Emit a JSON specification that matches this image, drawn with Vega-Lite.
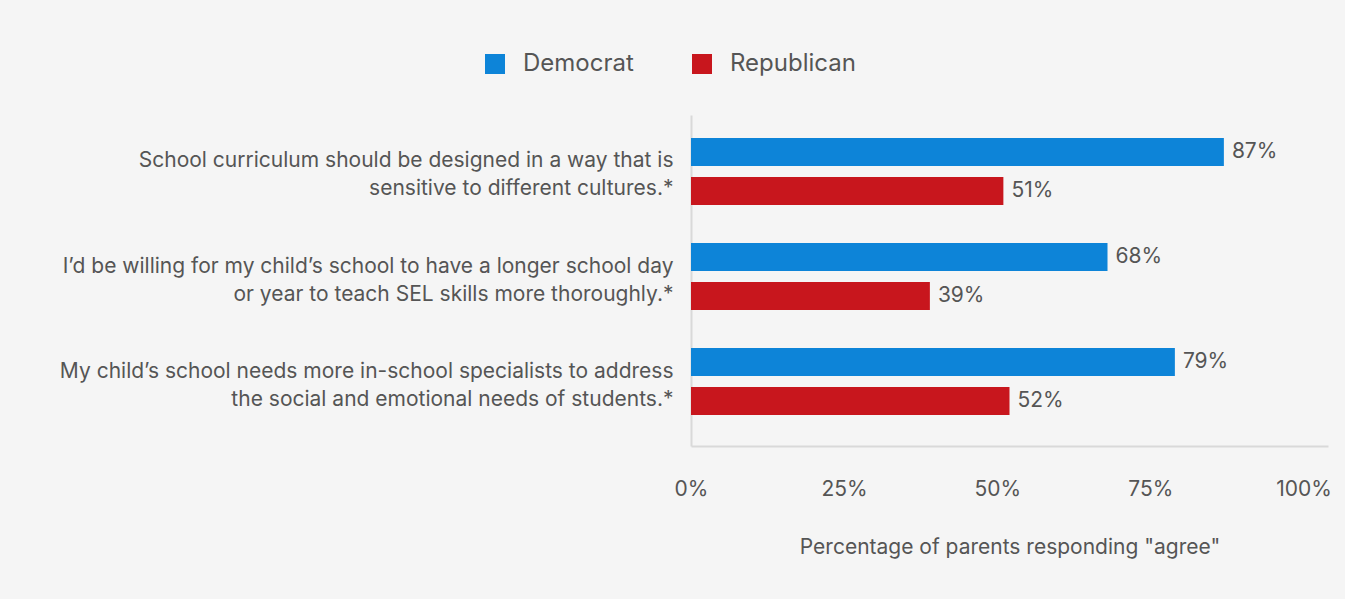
{
  "$schema": "https://vega.github.io/schema/vega-lite/v6.json",
  "width": 637,
  "height": 331,
  "autosize": {"type": "none"},
  "padding": {"left": 691, "top": 115, "right": 17, "bottom": 153},
  "background": "#f5f5f5",
  "config": {"view": {"stroke": null}, "font": "Inter"},
  "data": {
    "values": [
      {"question": "School curriculum should be designed in a way that is|sensitive to different cultures.*", "party": "Democrat", "value": 0.87},
      {"question": "School curriculum should be designed in a way that is|sensitive to different cultures.*", "party": "Republican", "value": 0.51},
      {"question": "I’d be willing for my child’s school to have a longer school day|or year to teach SEL skills more thoroughly.*", "party": "Democrat", "value": 0.68},
      {"question": "I’d be willing for my child’s school to have a longer school day|or year to teach SEL skills more thoroughly.*", "party": "Republican", "value": 0.39},
      {"question": "My child’s school needs more in-school specialists to address|the social and emotional needs of students.*", "party": "Democrat", "value": 0.79},
      {"question": "My child’s school needs more in-school specialists to address|the social and emotional needs of students.*", "party": "Republican", "value": 0.52}
    ]
  },
  "encoding": {
    "y": {
      "field": "question",
      "type": "nominal",
      "sort": null,
      "scale": {"paddingInner": 0, "paddingOuter": 0.076, "align": 0.25},
      "axis": {
        "title": null,
        "labelExpr": "split(datum.value, '|')",
        "labelFontSize": 21,
        "labelColor": "#555555",
        "labelLineHeight": 28,
        "labelPadding": 18,
        "labelOffset": -10,
        "labelLimit": 700,
        "ticks": false,
        "domainColor": "#d9d9d9",
        "domainWidth": 2
      }
    },
    "yOffset": {
      "field": "party",
      "type": "nominal",
      "sort": ["Democrat", "Republican"],
      "scale": {"paddingInner": 0.28, "paddingOuter": 0.49}
    },
    "x": {
      "field": "value",
      "type": "quantitative",
      "scale": {"domain": [0, 1.04], "nice": false},
      "axis": {
        "values": [0, 0.25, 0.5, 0.75, 1],
        "format": ".0%",
        "grid": false,
        "ticks": false,
        "labelFontSize": 21,
        "labelColor": "#555555",
        "labelPadding": 32,
        "labelFlush": false,
        "domainColor": "#d9d9d9",
        "domainWidth": 2,
        "title": "Percentage of parents responding \"agree\"",
        "titleFontSize": 21,
        "titleFontWeight": "normal",
        "titleColor": "#555555",
        "titlePadding": 37
      }
    }
  },
  "layer": [
    {
      "mark": {"type": "bar"},
      "encoding": {
        "color": {
          "field": "party",
          "type": "nominal",
          "scale": {"domain": ["Democrat", "Republican"], "range": ["#0d84d8", "#c8161d"]},
          "legend": {
            "orient": "none",
            "legendX": -208,
            "legendY": -63,
            "direction": "horizontal",
            "title": null,
            "symbolType": "square",
            "symbolSize": 400,
            "symbolStrokeWidth": 0,
            "labelFontSize": 24,
            "labelColor": "#555555",
            "labelOffset": 16,
            "columnPadding": 56
          }
        }
      }
    },
    {
      "mark": {"type": "text", "align": "left", "baseline": "middle", "dx": 8, "fontSize": 21, "color": "#555555"},
      "encoding": {
        "text": {"field": "value", "type": "quantitative", "format": ".0%"}
      }
    }
  ]
}
